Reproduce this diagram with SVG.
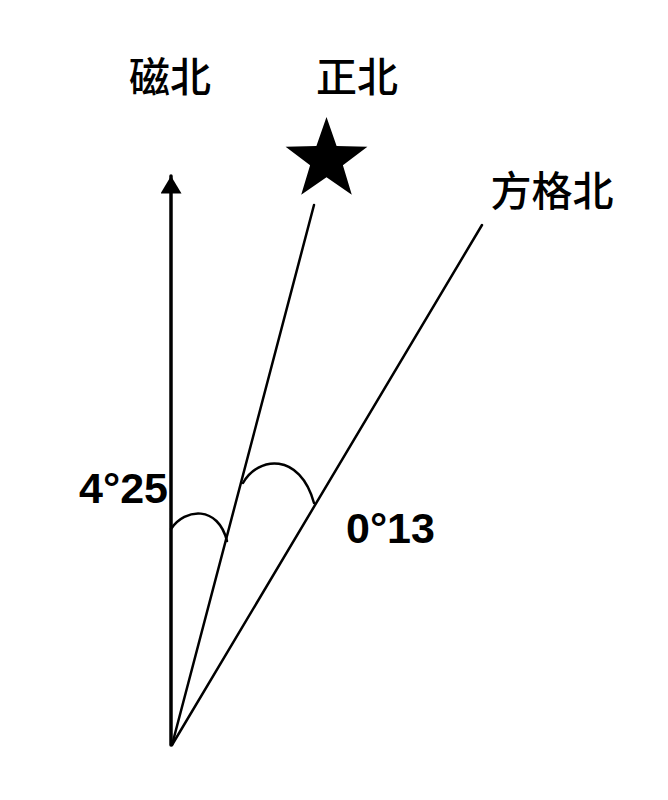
<svg xmlns="http://www.w3.org/2000/svg" width="668" height="800" viewBox="0 0 668 800">
<style>
.cjk{font-family:"Noto Sans CJK SC","Noto Sans",sans-serif;font-size:41px;font-weight:500;fill:#000}
.num{font-family:"Liberation Sans",Arial,sans-serif;font-size:43px;font-weight:bold;fill:#000}
.ln{stroke:#000;fill:none;stroke-linecap:round}
</style>
<defs>
<marker id="ah" markerWidth="6" markerHeight="6" refX="5" refY="3" orient="auto" markerUnits="strokeWidth">
<path d="M0,0 L5,3 L0,6 Z" fill="#000"/>
</marker>
</defs>
<rect width="668" height="800" fill="#fff"/>
<g id="connectors">
<line class="ln" x1="171" y1="745" x2="171" y2="176" stroke-width="3.5" marker-end="url(#ah)"/>
<line class="ln" x1="172" y1="745" x2="314" y2="205" stroke-width="2.5"/>
<line class="ln" x1="172" y1="745" x2="482" y2="225" stroke-width="2.5"/>
<path class="ln" d="M171,529 C185,508 218,505 227,541" stroke-width="2.5"/>
<path class="ln" d="M243,483 C258,456 300,452 314,503" stroke-width="2.5"/>
</g>
<g id="magnetic-north"><text class="cjk" x="170" y="92" text-anchor="middle">磁北</text></g>
<g id="true-north"><text class="cjk" x="357" y="92" text-anchor="middle">正北</text></g>
<g id="grid-north"><text class="cjk" x="552" y="206" text-anchor="middle">方格北</text></g>
<g id="star"><polygon fill="#000" points="326.5,117 336.6,146.1 367.4,146.7 342.9,165.3 351.8,194.8 326.5,177.2 301.2,194.8 310.1,165.3 285.6,146.7 316.4,146.1"/></g>
<g id="angle1"><text class="num" x="168" y="503" text-anchor="end">4°25</text></g>
<g id="angle2"><text class="num" x="346" y="543">0°13</text></g>
</svg>
